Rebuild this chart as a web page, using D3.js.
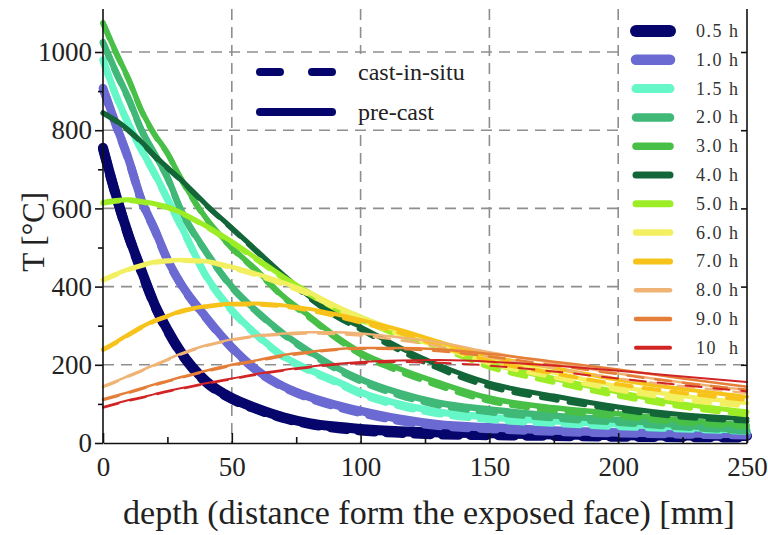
<!DOCTYPE html>
<html>
<head>
<meta charset="utf-8">
<script src="https://cdn.jsdelivr.net/npm/d3@7"></script>
<style>
  body { margin: 0; background: #fff; }
  svg { display: block; }
</style>
</head>
<body>
<svg></svg>
<script>
const width = 768, height = 535;
const margin = {top: 9, right: 21, bottom: 92, left: 103};
const serif = "'Liberation Serif', 'Times New Roman', serif";

// depth in mm
const depths = [0, 5, 10, 15, 20, 25, 30, 40, 50, 60, 70, 80, 90, 100, 115, 130, 150, 175, 200, 225, 250];

const hours = ["0.5 h", "1.0 h", "1.5 h", "2.0 h", "3.0 h", "4.0 h", "5.0 h", "6.0 h", "7.0 h", "8.0 h", "9.0 h", "10  h"];
const colors = ["#05056b", "#6a6ad2", "#66f7c8", "#3fb878", "#48c048", "#136637", "#9ced26", "#f2f060", "#f7c21a", "#efb376", "#e47e38", "#d12525"];
const widths = [10, 8.5, 7, 6.5, 5.5, 5, 5, 4.5, 4, 2.5, 2.5, 2];

// temperature [°C], pre-cast (solid)
const preCast = [
  [755, 635, 530, 440, 355, 290, 235, 158, 115, 88, 66, 51, 42, 36, 30, 27, 25, 22, 20, 19, 18],
  [908, 815, 725, 620, 548, 470, 410, 322, 245, 185, 145, 118, 98, 82, 62, 48, 40, 32, 27, 25, 23],
  [980, 890, 815, 750, 690, 625, 560, 428, 340, 275, 222, 188, 160, 130, 100, 80, 66, 56, 48, 40, 32],
  [1025, 950, 880, 800, 740, 680, 600, 490, 400, 335, 280, 235, 195, 163, 128, 103, 86, 70, 59, 45, 32],
  [1075, 1000, 930, 850, 790, 742, 680, 575, 500, 440, 375, 325, 275, 232, 190, 155, 115, 90, 75, 58, 46],
  [845, 825, 800, 770, 735, 705, 675, 610, 550, 490, 430, 375, 330, 297, 245, 200, 153, 120, 92, 72, 62],
  [615, 620, 622, 618, 612, 604, 590, 555, 515, 470, 425, 385, 350, 322, 283, 255, 205, 165, 130, 100, 80],
  [418, 432, 445, 455, 463, 467, 468, 465, 450, 432, 410, 385, 352, 322, 287, 258, 215, 180, 145, 120, 102],
  [240, 258, 278, 297, 313, 325, 337, 350, 356, 357, 352, 343, 330, 315, 290, 260, 222, 192, 162, 138, 118],
  [145, 158, 172, 186, 200, 214, 228, 250, 265, 275, 280, 283, 283, 280, 270, 258, 232, 205, 178, 155, 136],
  [112, 121, 130, 140, 150, 159, 168, 185, 200, 212, 225, 233, 240, 243, 243, 240, 228, 208, 188, 165, 144],
  [92, 101, 110, 117, 125, 133, 140, 153, 165, 177, 187, 195, 202, 207, 211, 212, 208, 198, 185, 170, 156]
];

// temperature [°C], cast-in-situ (dashed)
const castInSitu = [
  [752, 633, 528, 438, 353, 288, 233, 156, 113, 86, 64, 49, 39, 32, 26, 22, 20, 18, 16, 15, 14],
  [906, 813, 723, 618, 546, 468, 408, 320, 243, 183, 143, 115, 94, 77, 57, 44, 36, 29, 25, 22, 20],
  [978, 888, 813, 748, 688, 623, 558, 426, 338, 273, 220, 185, 156, 125, 95, 75, 60, 50, 42, 36, 30],
  [1023, 948, 878, 798, 738, 678, 598, 488, 398, 333, 278, 232, 191, 158, 122, 97, 79, 63, 52, 40, 30],
  [1073, 998, 928, 848, 788, 740, 678, 573, 498, 437, 372, 321, 270, 226, 183, 147, 107, 83, 68, 52, 42],
  [843, 823, 798, 768, 733, 703, 673, 608, 548, 487, 427, 371, 325, 290, 237, 191, 144, 111, 85, 66, 56],
  [613, 618, 620, 616, 610, 602, 588, 553, 512, 467, 421, 380, 344, 315, 275, 245, 194, 155, 120, 92, 72],
  [416, 430, 443, 453, 461, 465, 466, 463, 447, 428, 405, 379, 345, 314, 278, 248, 204, 168, 135, 110, 94],
  [238, 256, 276, 295, 311, 323, 335, 348, 354, 354, 349, 339, 325, 308, 282, 250, 210, 178, 150, 128, 110],
  [143, 156, 170, 184, 198, 212, 226, 248, 263, 273, 277, 280, 279, 275, 263, 248, 220, 192, 165, 145, 128],
  [110, 119, 128, 138, 148, 157, 166, 183, 198, 210, 222, 231, 238, 241, 240, 235, 221, 199, 176, 154, 136],
  [90, 99, 108, 115, 123, 131, 138, 151, 163, 175, 185, 193, 200, 204, 207, 205, 198, 183, 165, 148, 132]
];

const xTicks = [0, 50, 100, 150, 200, 250];
const xMinor = [25, 75, 125, 175, 225];
const yTicks = [0, 200, 400, 600, 800, 1000];
const yMinor = [100, 300, 500, 700, 900];

const svg = d3.select("svg")
  .attr("width", width)
  .attr("height", height)
  .attr("viewBox", [0, 0, width, height]);

const x = d3.scaleLinear()
  .domain([0, 250])
  .range([margin.left, width - margin.right]);

const y = d3.scaleLinear()
  .domain([0, 1110])
  .range([height - margin.bottom, margin.top]);

const gridStyle = g => g
  .attr("stroke", "#8e8e8e")
  .attr("stroke-width", 1.6)
  .attr("stroke-dasharray", "11,7");

// grid
svg.append("g")
  .call(gridStyle)
  .selectAll("line")
  .data(xTicks.slice(1, -1))
  .join("line")
  .attr("x1", d => x(d)).attr("x2", d => x(d))
  .attr("y1", y(1110)).attr("y2", y(0));

svg.append("g")
  .call(gridStyle)
  .selectAll("line")
  .data(yTicks.slice(1))
  .join("line")
  .attr("x1", x(0)).attr("x2", x(250))
  .attr("y1", d => y(d)).attr("y2", d => y(d));

// legend backgrounds (cover the grid)
svg.append("rect")
  .attr("x", 236).attr("y", y(1000) + 2)
  .attr("width", 214).attr("height", y(800) - y(1000) - 4)
  .attr("fill", "#fff");

svg.append("rect")
  .attr("x", 624).attr("y", margin.top)
  .attr("width", x(250) - 624 - 1).attr("height", y(200) - margin.top - 1)
  .attr("fill", "#fff");

// curves
const line = d3.line()
  .x((d, i) => x(depths[i]))
  .y(d => y(d))
  .curve(d3.curveMonotoneX);

const curves = svg.append("g")
  .attr("fill", "none")
  .attr("stroke-linecap", "round")
  .attr("stroke-linejoin", "round");

hours.forEach((h, k) => {
  curves.append("path")
    .attr("d", line(castInSitu[k]))
    .attr("stroke", colors[k])
    .attr("stroke-width", widths[k])
    .attr("stroke-dasharray", "16,12");
  curves.append("path")
    .attr("d", line(preCast[k]))
    .attr("stroke", colors[k])
    .attr("stroke-width", widths[k]);
});

// axes
const xAxis = svg.append("g")
  .attr("transform", `translate(0,${y(0)})`)
  .call(d3.axisBottom(x).tickValues(xTicks).tickSize(-10).tickSizeOuter(0).tickPadding(14));
xAxis.selectAll("text").style("font-family", serif).style("font-size", "27px").attr("fill", "#222");

svg.append("g")
  .attr("transform", `translate(0,${y(0)})`)
  .call(d3.axisBottom(x).tickValues(xMinor).tickSize(-6).tickSizeOuter(0).tickFormat(""))
  .call(g => g.select(".domain").remove());

const yAxis = svg.append("g")
  .attr("transform", `translate(${x(0)},0)`)
  .call(d3.axisLeft(y).tickValues(yTicks).tickFormat(d3.format("d")).tickSize(8).tickSizeOuter(0).tickPadding(3));
yAxis.selectAll("text").style("font-family", serif).style("font-size", "27px").attr("fill", "#222");
yAxis.select(".domain").attr("d", `M0,${y(1110)}V${y(0)}`);

svg.append("g")
  .attr("transform", `translate(${x(0)},0)`)
  .call(d3.axisLeft(y).tickValues(yMinor).tickSize(5).tickFormat(""))
  .call(g => g.select(".domain").remove());

// right frame
svg.append("g")
  .attr("transform", `translate(${x(250)},0)`)
  .call(d3.axisRight(y).tickValues(yTicks.slice(1)).tickSize(-6).tickSizeOuter(0).tickFormat(""))
  .call(g => g.select(".domain").attr("d", `M0,${y(1110)}V${y(0)}`));

svg.selectAll(".domain, .tick line").attr("stroke", "#111").attr("stroke-width", 1.6);

// axis titles
svg.append("text")
  .attr("x", (x(0) + x(250)) / 2 + 4)
  .attr("y", 524)
  .attr("text-anchor", "middle")
  .attr("fill", "#222")
  .style("font-family", serif).style("font-size", "34px")
  .text("depth (distance form the exposed face) [mm]");

svg.append("text")
  .attr("transform", `translate(44,${y(540)}) rotate(-90)`)
  .attr("text-anchor", "middle")
  .attr("fill", "#222")
  .style("font-family", serif).style("font-size", "31px")
  .text("T [°C]");

// type legend
const typeLegend = svg.append("g").attr("fill", "none").attr("stroke", colors[0]).attr("stroke-width", 8).attr("stroke-linecap", "round");
typeLegend.append("line").attr("x1", 260).attr("x2", 332).attr("y1", 72).attr("y2", 72).attr("stroke-dasharray", "20,32");
typeLegend.append("line").attr("x1", 260).attr("x2", 332).attr("y1", 112).attr("y2", 112);
svg.append("text").attr("x", 358).attr("y", 80).attr("fill", "#222")
  .style("font-family", serif).style("font-size", "24px").text("cast-in-situ");
svg.append("text").attr("x", 358).attr("y", 120).attr("fill", "#222")
  .style("font-family", serif).style("font-size", "24px").text("pre-cast");

// hour legend
const legend = svg.append("g")
  .selectAll("g")
  .data(hours)
  .join("g")
  .attr("transform", (d, i) => `translate(0,${31 + i * 28.8})`);

legend.append("line")
  .attr("x1", 636).attr("x2", 670)
  .attr("stroke", (d, i) => colors[i])
  .attr("stroke-width", (d, i) => Math.max(widths[i] + 2, 3))
  .attr("stroke-linecap", "round");

legend.append("text")
  .attr("x", 696).attr("y", 6)
  .attr("fill", "#333")
  .style("font-family", serif).style("font-size", "18px")
  .style("letter-spacing", "1.5px")
  .style("white-space", "pre")
  .text(d => d);
</script>
</body>
</html>
